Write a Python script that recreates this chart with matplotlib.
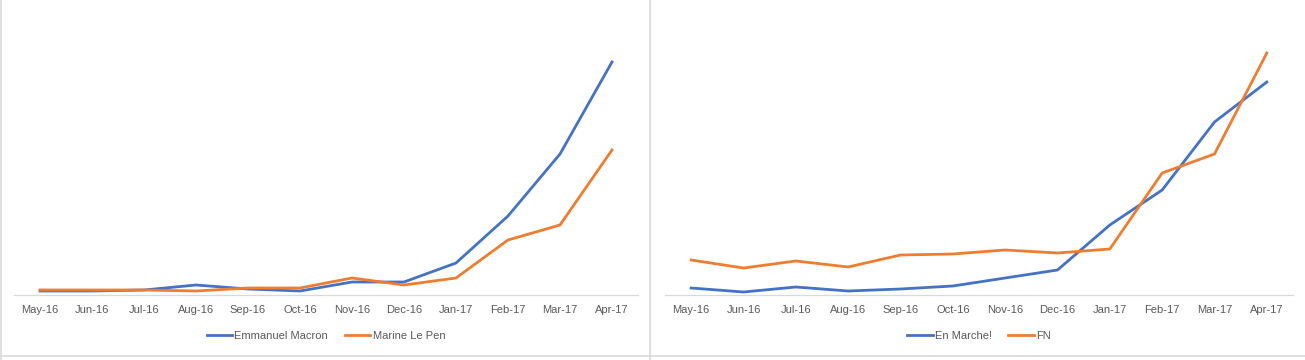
import matplotlib.pyplot as plt
from matplotlib.lines import Line2D

months = ['May-16', 'Jun-16', 'Jul-16', 'Aug-16', 'Sep-16', 'Oct-16',
          'Nov-16', 'Dec-16', 'Jan-17', 'Feb-17', 'Mar-17', 'Apr-17']

macron = [4, 4, 5, 10, 6, 4, 13, 13, 32, 79, 141, 233]
le_pen = [5, 5, 5, 4, 7, 7, 17, 10, 17, 55, 70, 145]

en_marche = [7, 3, 8, 4, 6, 9, 17, 25, 70, 105, 173, 213]
fn = [35, 27, 34, 28, 40, 41, 45, 42, 46, 122, 141, 242]

blue = '#4472C4'
orange = '#ED7D31'

plt.rcParams['font.family'] = ['Liberation Sans', 'DejaVu Sans']

fig = plt.figure(figsize=(13.05, 3.6), dpi=100)
W, H = 1305.0, 360.0

def make_ax(x0, x1, s1, s2, n1, n2):
    ax = fig.add_axes([x0 / W, 1 - 295 / H, (x1 - x0) / W, (295 - 20) / H])
    x = list(range(len(months)))
    ax.plot(x, s1, color=blue, lw=2.0, label=n1)
    ax.plot(x, s2, color=orange, lw=2.0, label=n2)
    ax.set_xlim(-0.5, len(months) - 0.5)
    ax.set_ylim(0, 275)
    ax.set_xticks(x)
    ax.set_xticklabels(months, fontsize=8, color='#595959')
    ax.tick_params(axis='x', length=0, pad=7)
    ax.set_yticks([])
    for s in ['top', 'right', 'left']:
        ax.spines[s].set_visible(False)
    ax.spines['bottom'].set_color('#D9D9D9')
    ax.spines['bottom'].set_linewidth(0.9)
    ax.legend(loc='center', bbox_to_anchor=((x0 + x1) / 2 / W, 1 - 336 / H),
              bbox_transform=fig.transFigure, ncol=2, frameon=False,
              fontsize=8, labelcolor='#595959', handlelength=2.3,
              handletextpad=0.2, columnspacing=1.5)
    return ax

make_ax(14, 638, macron, le_pen, 'Emmanuel Macron', 'Marine Le Pen')
make_ax(665, 1293, en_marche, fn, 'En Marche!', 'FN')

# chart-area borders
border = '#D9D9D9'
fig.add_artist(Line2D([0.5 / W, 0.5 / W], [0, 1], color=border, lw=1.2))
fig.add_artist(Line2D([650 / W, 650 / W], [0, 1], color=border, lw=1.2))
fig.add_artist(Line2D([0, 1], [1 - 356 / H, 1 - 356 / H], color=border, lw=1.2))

fig.savefig('out.png', dpi=100)
